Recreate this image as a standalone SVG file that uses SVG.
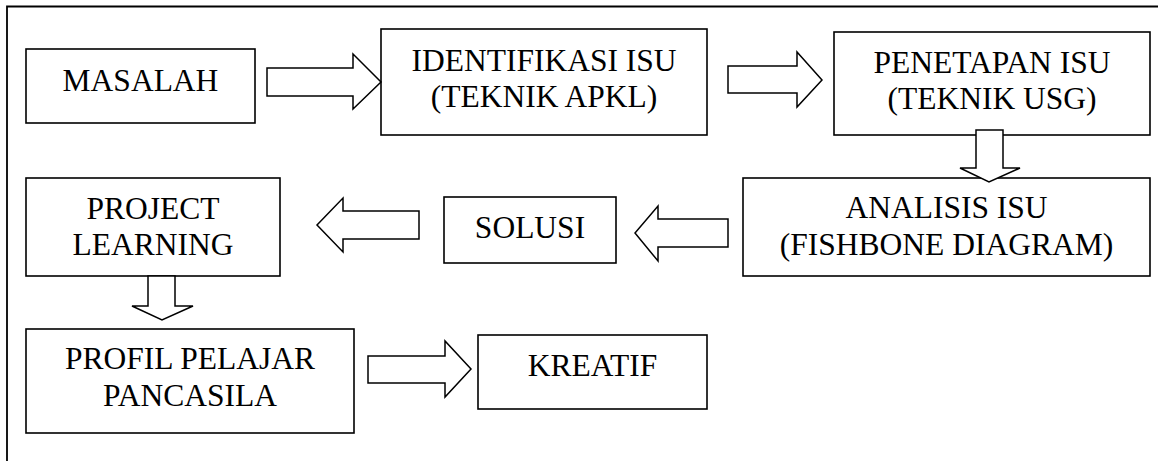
<svg xmlns="http://www.w3.org/2000/svg" width="1158" height="461" viewBox="0 0 1158 461">
<style>
.box{fill:#fff;stroke:#000;stroke-width:1.6}
.arr{fill:#fff;stroke:#000;stroke-width:1.5;stroke-linejoin:miter}
.t{font-family:'Liberation Serif','Times New Roman','DejaVu Serif',serif;font-size:31.5px;fill:#000;text-anchor:middle}
.frame{fill:none;stroke:#000;stroke-width:1.8}
</style>
<rect width="1158" height="461" fill="#fff"/>
<path class="frame" d="M7,461 V6.5 H1158"/>
<g font-family="Liberation Serif, Times New Roman, serif">
<g id="n-masalah"><rect class="box" x="26" y="49" width="229" height="74"/><text class="t" x="140.5" y="91">MASALAH</text></g>
<g id="n-identifikasi"><rect class="box" x="381" y="29" width="326" height="106"/><text class="t" x="544" y="71">IDENTIFIKASI ISU</text><text class="t" x="544" y="107">(TEKNIK APKL)</text></g>
<g id="n-penetapan"><rect class="box" x="834" y="32" width="316" height="103"/><text class="t" x="992" y="73">PENETAPAN ISU</text><text class="t" x="992" y="109">(TEKNIK USG)</text></g>
<g id="n-analisis"><rect class="box" x="743" y="178" width="407" height="98"/><text class="t" x="946.5" y="218">ANALISIS ISU</text><text class="t" x="946.5" y="255">(FISHBONE DIAGRAM)</text></g>
<g id="n-solusi"><rect class="box" x="444" y="197" width="172" height="66"/><text class="t" x="530" y="238">SOLUSI</text></g>
<g id="n-project"><rect class="box" x="26" y="178" width="254" height="98"/><text class="t" x="153" y="219">PROJECT</text><text class="t" x="153" y="255">LEARNING</text></g>
<g id="n-profil"><rect class="box" x="26" y="329" width="328" height="104"/><text class="t" x="190" y="369">PROFIL PELAJAR</text><text class="t" x="190" y="406">PANCASILA</text></g>
<g id="n-kreatif"><rect class="box" x="478" y="335" width="229" height="74"/><text class="t" x="592.5" y="376">KREATIF</text></g>
</g>
<g id="connectors">
<path class="arr" d="M267,68 H353 V54 L381,82 L353,109 V96 H267 Z"/>
<path class="arr" d="M728,66 H797 V52 L822,80 L797,107 V93 H728 Z"/>
<path class="arr" d="M976,130 H1003 V168 H1020 L989,182 L960,168 H976 Z"/>
<path class="arr" d="M728,219 H658 V206 L635,233 L658,261 V247 H728 Z"/>
<path class="arr" d="M419,211 H343 V198 L317,225 L343,252 V239 H419 Z"/>
<path class="arr" d="M148,276 H175 V306 H193 L162,320 L132,306 H148 Z"/>
<path class="arr" d="M368,356 H445 V341 L471,369 L445,397 V383 H368 Z"/>
</g>
</svg>
